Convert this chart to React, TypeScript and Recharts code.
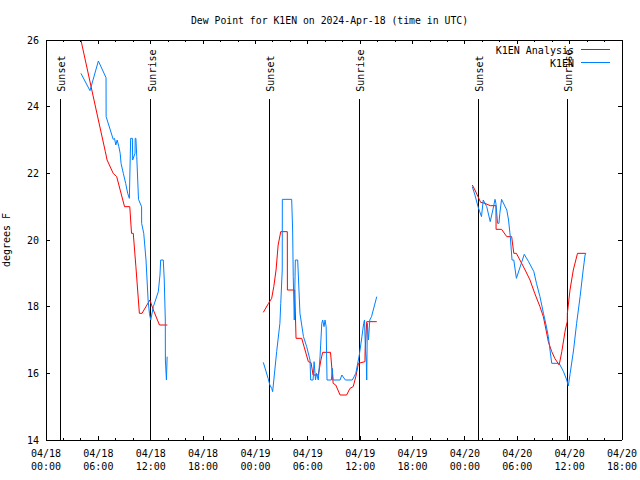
import React from 'react';
import { ComposedChart, Line, XAxis, YAxis, ReferenceLine, Legend } from 'recharts';

const FONT = "'DejaVu Sans Mono', 'Liberation Mono', monospace";
const TITLE = 'Dew Point for K1EN on 2024-Apr-18 (time in UTC)';
const Y_LABEL = 'degrees F';

// x axis: hours since 04/18 00:00 UTC
const xMajorHours = [0, 6, 12, 18, 24, 30, 36, 42, 48, 54, 60, 66];
const xTickDates = ['04/18', '04/18', '04/18', '04/18', '04/19', '04/19', '04/19', '04/19', '04/20', '04/20', '04/20', '04/20'];
const xTickTimes = ['00:00', '06:00', '12:00', '18:00', '00:00', '06:00', '12:00', '18:00', '00:00', '06:00', '12:00', '18:00'];
const xAllTickHours = [0, 2, 4, 6, 8, 10, 12, 14, 16, 18, 20, 22, 24, 26, 28, 30, 32, 34, 36, 38, 40, 42, 44, 46, 48, 50, 52, 54, 56, 58, 60, 62, 64, 66];
const yTicks = [14, 16, 18, 20, 22, 24, 26];

const sunsetHours = [1.62, 25.58, 49.54];
const sunriseHours = [11.98, 35.88, 59.75];
const SUN_LINE_TOP = 24.24;

// [hour, dew point F]; null = gap
const analysisReadings: [number, number | null][] = [
  [4.0, 26.0], [5.0, 24.8], [6.0, 23.6], [6.8, 22.65], [7.0, 22.4], [7.7, 22.0], [8.1, 21.9], [8.5, 21.5],
  [9.0, 21.0], [9.6, 21.0], [9.7, 20.6], [9.8, 20.2], [10.0, 20.2], [10.3, 19.2], [10.7, 17.8], [11.0, 17.8],
  [11.9, 18.2], [12.3, 17.9], [13.0, 17.45], [13.9, 17.45],
  [19.0, null],
  [24.9, 17.83], [25.5, 18.1], [25.86, 18.25], [26.1, 18.6], [26.36, 19.1], [26.6, 19.85], [26.9, 20.25],
  [27.65, 20.25], [27.66, 18.5], [28.5, 18.5], [28.65, 17.05], [29.3, 17.05], [29.68, 16.7], [30.06, 16.35],
  [30.37, 16.32], [30.6, 15.95], [31.2, 15.95], [31.5, 16.4], [31.7, 16.63], [32.6, 16.63], [32.9, 15.7],
  [33.2, 15.65], [33.7, 15.35], [34.45, 15.35], [34.83, 15.55], [35.2, 15.6], [35.5, 15.9], [35.8, 16.3],
  [36.55, 16.35], [36.56, 16.65], [36.75, 17.55], [37.9, 17.55],
  [43.0, null],
  [48.85, 21.65], [49.15, 21.5], [49.5, 21.3], [49.8, 21.13], [50.3, 21.1], [50.9, 21.03], [51.56, 21.03],
  [51.57, 20.32], [52.2, 20.32], [52.8, 20.1], [53.36, 20.1], [53.6, 19.6], [53.9, 19.6], [54.3, 19.4],
  [54.9, 19.1], [55.46, 18.8], [56.0, 18.4], [56.6, 18.0], [56.99, 17.7], [57.3, 17.3], [57.56, 16.95],
  [57.95, 16.65], [58.3, 16.45], [58.8, 16.25], [59.1, 16.65], [59.5, 17.3], [59.73, 17.55], [59.74, 17.8],
  [60.04, 18.5], [60.42, 19.1], [60.9, 19.6], [61.85, 19.6],
];

const k1enReadings: [number, number | null][] = [
  [4.0, 25.0], [5.04, 24.48], [6.0, 25.37], [6.88, 24.87], [6.89, 23.7], [7.7, 23.02], [7.85, 23.05],
  [8.0, 22.85], [8.15, 23.0], [8.35, 22.8], [8.5, 22.6], [8.6, 22.3], [8.86, 22.0], [9.13, 21.7],
  [9.36, 21.4], [9.55, 21.25], [9.7, 23.05], [9.9, 23.05], [9.93, 22.4], [10.2, 22.6], [10.22, 23.05],
  [10.3, 23.05], [10.4, 22.5], [10.6, 21.22], [10.95, 21.0], [10.96, 20.5], [11.2, 20.2], [11.46, 19.4],
  [11.7, 18.2], [11.85, 17.8], [12.0, 17.6], [12.3, 18.0], [12.87, 18.45], [13.06, 18.95], [13.14, 19.4],
  [13.44, 19.4], [13.55, 18.8], [13.67, 17.6], [13.68, 16.4], [13.8, 15.8], [13.88, 16.5],
  [19.0, null],
  [24.9, 16.33], [25.45, 15.85], [25.65, 15.65], [25.86, 15.55], [25.97, 15.45], [26.43, 16.65], [26.8, 17.5],
  [26.9, 18.1], [27.07, 19.1], [27.08, 21.22], [28.15, 21.22], [28.26, 20.3], [28.33, 18.9], [28.45, 17.6],
  [28.57, 19.4], [28.84, 19.4], [29.1, 17.8], [29.5, 17.1], [29.87, 16.8], [30.25, 16.4], [30.33, 15.8],
  [30.6, 15.8], [30.72, 16.35], [30.88, 15.8], [31.0, 16.0], [31.2, 15.8], [31.4, 16.5], [31.6, 17.5],
  [31.7, 17.6], [31.86, 17.4], [31.97, 17.6], [32.1, 17.4], [32.2, 15.8], [32.7, 15.8], [32.8, 16.15],
  [32.9, 15.8], [33.7, 15.8], [33.9, 15.95], [34.3, 15.8], [35.1, 15.8], [35.5, 16.0], [35.9, 16.55],
  [36.2, 17.1], [36.4, 17.5], [36.5, 17.6], [36.6, 16.7], [36.7, 16.4], [36.75, 15.8], [36.82, 17.5],
  [36.95, 17.0], [37.1, 17.6], [37.3, 17.7], [37.9, 18.3],
  [43.0, null],
  [48.85, 21.6], [49.15, 21.35], [49.5, 21.0], [49.7, 20.85], [49.9, 20.7], [50.1, 21.2], [50.5, 21.0],
  [50.9, 20.55], [51.2, 20.9], [51.45, 21.22], [51.55, 21.1], [51.75, 20.5], [51.9, 20.5], [52.0, 20.8],
  [52.2, 21.22], [52.8, 20.9], [53.0, 20.6], [53.2, 20.1], [53.4, 19.4], [53.6, 19.4], [53.9, 18.85],
  [54.4, 19.25], [54.8, 19.57], [55.3, 19.35], [55.9, 19.05], [56.2, 18.7], [56.6, 18.3], [57.0, 17.8],
  [57.3, 17.45], [57.56, 17.1], [57.75, 16.7], [57.95, 16.3], [58.8, 16.3], [59.3, 16.05], [59.67, 15.8],
  [59.85, 15.62], [60.06, 16.0], [60.45, 16.7], [60.8, 17.5], [61.2, 18.3], [61.55, 19.1], [61.77, 19.55],
  [61.85, 19.6],
];

const analysisRows = analysisReadings.map(([t, v]) => ({ t, analysis: v }));
const k1enRows = k1enReadings.map(([t, v]) => ({ t, k1en: v }));

const textStyle = { fontFamily: FONT, fontSize: 10, fill: '#000' };

function BottomTick(props: any) {
  const { x, y, payload } = props;
  const idx = xMajorHours.indexOf(payload.value);
  const major = idx >= 0;
  return (
    <g>
      <line x1={x} y1={y} x2={x} y2={y - (major ? 4 : 2)} stroke="#000" shapeRendering="crispEdges" />
      {major && (
        <text x={x} y={y + 17.3} textAnchor="middle" {...textStyle}>
          <tspan x={x}>{xTickDates[idx]}</tspan>
          <tspan x={x} dy={12.7}>{xTickTimes[idx]}</tspan>
        </text>
      )}
    </g>
  );
}

function TopTick(props: any) {
  const { x, y, payload } = props;
  const major = xMajorHours.indexOf(payload.value) >= 0;
  return <line x1={x} y1={y} x2={x} y2={y + (major ? 4 : 2)} stroke="#000" shapeRendering="crispEdges" />;
}

function LeftTick(props: any) {
  const { x, y, payload } = props;
  return (
    <g>
      <line x1={x} y1={y} x2={x + 4} y2={y} stroke="#000" shapeRendering="crispEdges" />
      <text x={x - 7} y={y + 3.6} textAnchor="end" {...textStyle}>{payload.value}</text>
    </g>
  );
}

function RightTick(props: any) {
  const { x, y } = props;
  return <line x1={x} y1={y} x2={x - 4} y2={y} stroke="#000" shapeRendering="crispEdges" />;
}

function SunLabel(props: any) {
  const { viewBox, text } = props;
  if (!viewBox) return null;
  const x = viewBox.x + 5;
  const y = viewBox.y - 7;
  return (
    <text x={x} y={y} transform={`rotate(-90 ${x} ${y})`} {...textStyle}>{text}</text>
  );
}

function YTitle(props: any) {
  const { viewBox } = props;
  if (!viewBox) return null;
  const x = viewBox.x + 10;
  const y = viewBox.y + viewBox.height / 2;
  return (
    <text x={x} y={y} transform={`rotate(-90 ${x} ${y})`} textAnchor="middle" {...textStyle}>{Y_LABEL}</text>
  );
}

function ChartTitle(props: any) {
  const { viewBox } = props;
  if (!viewBox) return null;
  const x = viewBox.x + viewBox.width / 2 - 4.5;
  const y = viewBox.y - 15.5;
  return <text x={x} y={y} textAnchor="middle" {...textStyle} fontSize={9.8}>{TITLE}</text>;
}

function LegendBox(props: any) {
  const items = props.payload || [];
  return (
    <svg width={640} height={80} style={{ display: 'block' }}>
      {items.map((it: any, i: number) => (
        <g key={String(it.value)}>
          <text x={574} y={53.5 + i * 13} textAnchor="end" {...textStyle}>{it.value}</text>
          <line x1={581} x2={610} y1={49.5 + i * 13} y2={49.5 + i * 13} stroke={it.color} strokeWidth={1} shapeRendering="crispEdges" />
        </g>
      ))}
    </svg>
  );
}

export default function App() {
  return (
    <div style={{ position: 'absolute', left: 0, top: 0, width: 640, height: 480, background: '#fff' }}>
      <ComposedChart width={640} height={480} margin={{ top: 39, right: 17, bottom: 0, left: 0 }}>
        <XAxis
          dataKey="t"
          type="number"
          domain={[0, 66]}
          allowDataOverflow
          ticks={xAllTickHours}
          interval={0}
          height={40}
          tickSize={0}
          tickMargin={0}
          tickLine={false}
          axisLine={{ stroke: '#000', shapeRendering: 'crispEdges' }}
          tick={(p: any) => <BottomTick {...p} />}
        />
        <XAxis
          xAxisId="top"
          orientation="top"
          dataKey="t"
          type="number"
          domain={[0, 66]}
          allowDataOverflow
          ticks={xAllTickHours}
          interval={0}
          height={1}
          tickSize={0}
          tickMargin={0}
          tickLine={false}
          axisLine={{ stroke: '#000', shapeRendering: 'crispEdges' }}
          tick={(p: any) => <TopTick {...p} />}
          label={<ChartTitle />}
        />
        <YAxis
          type="number"
          domain={[14, 26]}
          allowDataOverflow
          ticks={yTicks}
          interval={0}
          width={46}
          tickSize={0}
          tickMargin={0}
          tickLine={false}
          axisLine={{ stroke: '#000', shapeRendering: 'crispEdges' }}
          tick={(p: any) => <LeftTick {...p} />}
          label={<YTitle />}
        />
        <YAxis
          yAxisId="right"
          orientation="right"
          type="number"
          domain={[14, 26]}
          allowDataOverflow
          ticks={yTicks}
          interval={0}
          width={1}
          tickSize={0}
          tickMargin={0}
          tickLine={false}
          axisLine={{ stroke: '#000', shapeRendering: 'crispEdges' }}
          tick={(p: any) => <RightTick {...p} />}
        />
        {sunsetHours.map((h) => (
          <ReferenceLine
            key={`ss${h}`}
            segment={[{ x: h, y: 14 }, { x: h, y: SUN_LINE_TOP }]}
            stroke="#000"
            strokeWidth={1}
            shapeRendering="crispEdges"
            label={<SunLabel text="Sunset" />}
          />
        ))}
        {sunriseHours.map((h) => (
          <ReferenceLine
            key={`sr${h}`}
            segment={[{ x: h, y: 14 }, { x: h, y: SUN_LINE_TOP }]}
            stroke="#000"
            strokeWidth={1}
            shapeRendering="crispEdges"
            label={<SunLabel text="Sunrise" />}
          />
        ))}
        <Line
          data={analysisRows}
          dataKey="analysis"
          name="K1EN Analysis"
          type="linear"
          stroke="#ff0000"
          strokeWidth={1}
          dot={false}
          activeDot={false}
          connectNulls={false}
          isAnimationActive={false}
        />
        <Line
          data={k1enRows}
          dataKey="k1en"
          name="K1EN"
          type="linear"
          stroke="#0080ff"
          strokeWidth={1}
          dot={false}
          activeDot={false}
          connectNulls={false}
          isAnimationActive={false}
        />
        <Legend
          layout="horizontal"
          verticalAlign="middle"
          align="center"
          itemSorter="dataKey"
          wrapperStyle={{ top: 0, left: 0, width: 640, height: 80 }}
          content={(p: any) => <LegendBox {...p} />}
        />
      </ComposedChart>
    </div>
  );
}
